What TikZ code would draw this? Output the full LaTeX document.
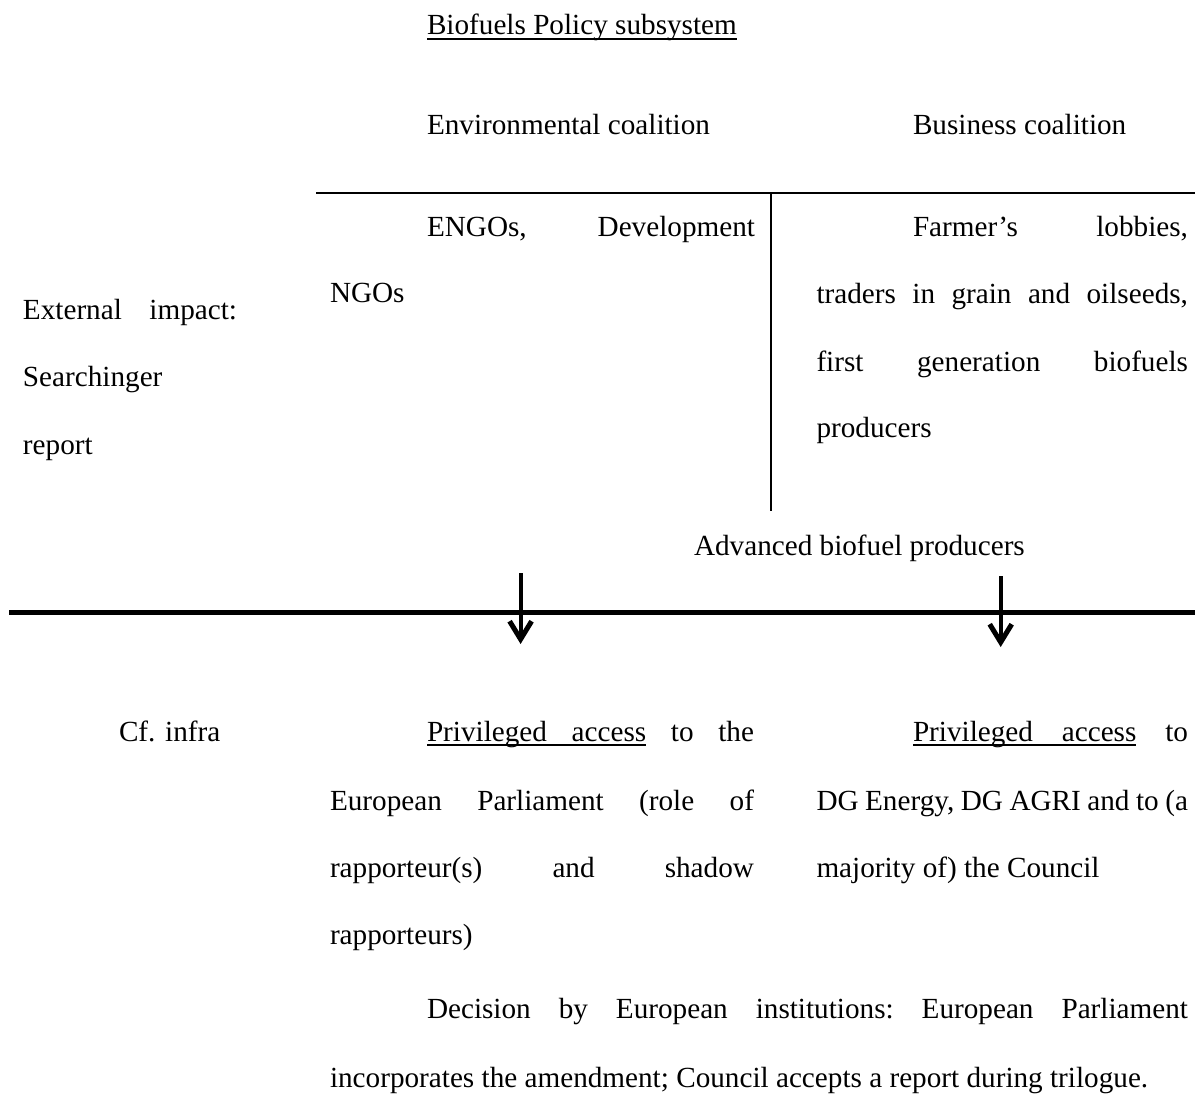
\documentclass[tikz,border=0pt]{standalone}
\usepackage{fontspec}
\setmainfont{Liberation Serif}
\usetikzlibrary{arrows.meta}
\newcommand\myul[1]{\setbox0\hbox{#1}\rlap{\rule[-4.6pt]{\wd0}{1.8pt}}\box0}
\newcommand\myulgap{\leaders\hrule height -2.8pt depth 4.6pt\hfill}
\begin{document}
\begin{tikzpicture}[x=1pt,y=-1pt,
  txt/.style={inner sep=0pt,outer sep=0pt,anchor=base west,font=\fontsize{29.2}{35}\selectfont},
  thinline/.style={line width=2pt},
  thickline/.style={line width=4.5pt},
  downarrow/.style={line width=4pt,-{Straight Barb[length=18pt,width=22pt,line width=5pt]}}]
\useasboundingbox (0,0) rectangle (1195,1115);
% upper part
\node[txt] (title) at (427,35) {\myul{Biofuels Policy subsystem}};
\node[txt] (envc) at (427,135) {Environmental coalition};
\node[txt] (busc) at (913,135) {Business coalition};
\coordinate (hl) at (316,193);
\coordinate (hr) at (1195,193);
\coordinate (vt) at (770.7,193);
\coordinate (vb) at (770.7,511);
\draw[thinline] (hl) -- (hr);
\draw[thinline] (vt) -- (vb);
\node[txt] (engo1) at (427,236.7) {\hbox to 328pt{ENGOs,\hfill Development}};
\node[txt] (engo2) at (330,303) {NGOs};
\node[txt] (farm1) at (913,237) {\hbox to 275pt{Farmer’s\hfill lobbies,}};
\node[txt] (farm2) at (816.5,304) {\hbox to 371.5pt{traders\hfill in\hfill grain\hfill and\hfill oilseeds,}};
\node[txt] (farm3) at (816.5,371.5) {\hbox to 371.5pt{first\hfill generation\hfill biofuels}};
\node[txt] (farm4) at (816.5,437.5) {producers};
\node[txt] (ext1) at (23,320) {\hbox to 214pt{External\hfill impact:}};
\node[txt] (ext2) at (23,387) {Searchinger};
\node[txt] (ext3) at (23,454) {report};
\node[txt] (adv) at (694,555) {Advanced biofuel producers};
% separator
\coordinate (tl) at (9,612.5);
\coordinate (tr) at (1195,612.5);
\draw[thickline] (tl) -- (tr);
\coordinate (a1s) at (520.6,573);
\coordinate (a1e) at (520.6,644);
\coordinate (a2s) at (1000.7,576);
\coordinate (a2e) at (1000.7,647);
\draw[downarrow] (a1s) -- (a1e);
\draw[downarrow] (a2s) -- (a2e);
% lower part
\node[txt] (cf) at (119,741.5) {Cf. infra};
\node[txt] (ep1) at (427,741.5) {\hbox to 327pt{\myul{Privileged}\myulgap\myul{access}\hfill to\hfill the}};
\node[txt] (ep2) at (330,810) {\hbox to 424pt{European\hfill Parliament\hfill (role\hfill of}};
\node[txt] (ep3) at (330,877) {\hbox to 424pt{rapporteur(s)\hfill and\hfill shadow}};
\node[txt] (ep4) at (330,944) {rapporteurs)};
\node[txt] (dg1) at (913,741.5) {\hbox to 275pt{\myul{Privileged}\myulgap\myul{access}\hfill to}};
\node[txt] (dg2) at (816.5,810) {\hbox to 371.5pt{DG\hfill Energy,\hfill DG\hfill AGRI\hfill and\hfill to\hfill (a}};
\node[txt] (dg3) at (816.5,877) {majority of) the Council};
\node[txt] (dec1) at (427,1018) {\hbox to 761pt{Decision\hfill by\hfill European\hfill institutions:\hfill European\hfill Parliament}};
\node[txt] (dec2) at (330,1087) {incorporates the amendment; Council accepts a report during trilogue.};
\end{tikzpicture}
\end{document}
